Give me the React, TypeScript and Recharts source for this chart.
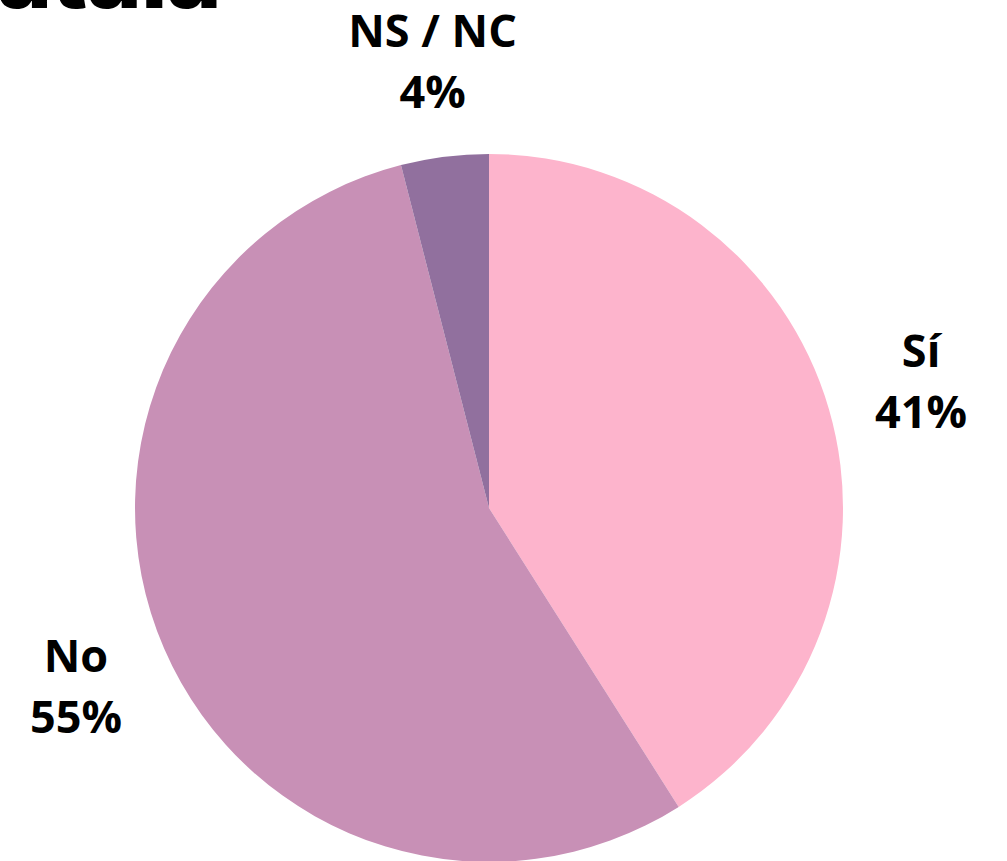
import React from 'react';
import { PieChart, Pie, Cell } from 'recharts';

const categories = ['Sí', 'No', 'NS / NC'];
const shares = [41, 55, 4];
const colors = ['#FDB4CC', '#C890B6', '#91709E'];

const data = categories.map((name, i) => ({ name, value: shares[i] }));

const RAD = Math.PI / 180;

const renderLabel = (props: any) => {
  const { cx, cy, midAngle, outerRadius, index } = props;
  const r = outerRadius + 96;
  const x = cx + r * Math.cos(-midAngle * RAD);
  const y = cy + r * Math.sin(-midAngle * RAD);
  return (
    <text
      x={x}
      y={y}
      textAnchor="middle"
      fill="#000"
      style={{ fontFamily: '"Open Sans", "Noto Sans", sans-serif', fontWeight: 700, fontSize: 45 }}
    >
      <tspan x={x} y={y - 15}>{categories[index]}</tspan>
      <tspan x={x} y={y + 46}>{shares[index]}%</tspan>
    </text>
  );
};

export default function App() {
  return (
    <div style={{ position: 'absolute', left: 0, top: 0, width: 1007, height: 861, overflow: 'hidden', background: '#fff' }}>
      <div
        style={{
          position: 'absolute',
          left: -3,
          top: -70,
          fontFamily: 'Inter, "Noto Sans", sans-serif',
          fontWeight: 800,
          fontSize: 94,
          lineHeight: '88px',
          color: '#000',
          letterSpacing: -1,
        }}
      >
        atala
      </div>
      <PieChart width={1007} height={861} margin={{ top: 0, right: 0, bottom: 0, left: 0 }}>
        <Pie
          data={data}
          dataKey="value"
          nameKey="name"
          cx={489}
          cy={508}
          outerRadius={354}
          startAngle={90}
          endAngle={-270}
          stroke="none"
          label={renderLabel}
          labelLine={false}
          isAnimationActive={false}
        >
          {data.map((d, i) => (
            <Cell key={d.name} fill={colors[i]} />
          ))}
        </Pie>
      </PieChart>
    </div>
  );
}
